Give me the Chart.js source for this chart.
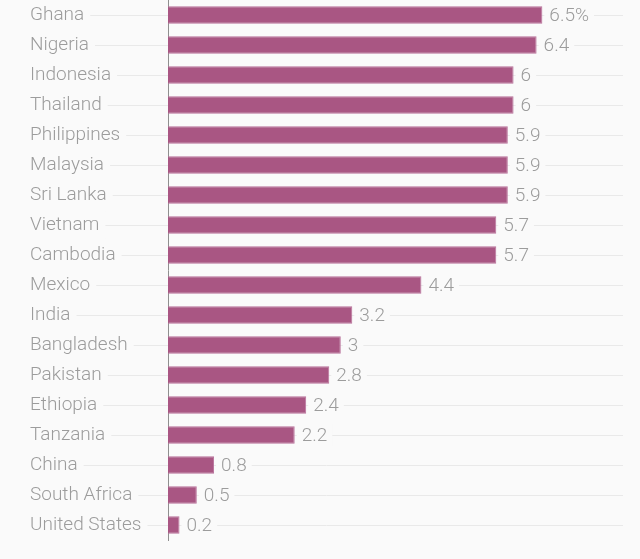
<!DOCTYPE html>
<html>
<head>
<meta charset="utf-8">
<script src="https://cdn.jsdelivr.net/npm/chart.js@4"></script>
<style>
  html, body { margin: 0; padding: 0; background: #fafafa; }
  #wrap { width: 640px; height: 559px; }
</style>
</head>
<body>
<div id="wrap"><canvas id="chart"></canvas></div>
<script>
// страны и значения
const countries = ['Ghana', 'Nigeria', 'Indonesia', 'Thailand', 'Philippines', 'Malaysia', 'Sri Lanka',
  'Vietnam', 'Cambodia', 'Mexico', 'India', 'Bangladesh', 'Pakistan', 'Ethiopia', 'Tanzania',
  'China', 'South Africa', 'United States'];
const values = [6.5, 6.4, 6, 6, 5.9, 5.9, 5.9, 5.7, 5.7, 4.4, 3.2, 3, 2.8, 2.4, 2.2, 0.8, 0.5, 0.2];
const valueLabels = ['6.5%', '6.4', '6', '6', '5.9', '5.9', '5.9', '5.7', '5.7', '4.4', '3.2', '3', '2.8', '2.4', '2.2', '0.8', '0.5', '0.2'];

const bg = '#fafafa';
const textColor = '#9c9c9c';
const fontFamily = 'Roboto';

// линии сетки через всю ширину (за подписями)
const rowLines = {
  id: 'rowLines',
  beforeDraw(chart) {
    const ctx = chart.ctx;
    const y = chart.scales.y;
    ctx.save();
    ctx.strokeStyle = '#e9e9e9';
    ctx.lineWidth = 1;
    countries.forEach((c, i) => {
      const py = Math.round(y.getPixelForValue(i)) + 0.5;
      ctx.beginPath();
      ctx.moveTo(30, py);
      ctx.lineTo(623, py);
      ctx.stroke();
    });
    ctx.restore();
  }
};

// подписи значений справа от столбцов
const barValues = {
  id: 'barValues',
  afterDatasetsDraw(chart) {
    const ctx = chart.ctx;
    const meta = chart.getDatasetMeta(0);
    ctx.save();
    ctx.font = '300 19px ' + fontFamily;
    ctx.textBaseline = 'middle';
    ctx.textAlign = 'left';
    meta.data.forEach((bar, i) => {
      const txt = valueLabels[i];
      const x = bar.x + 7;
      const w = ctx.measureText(txt).width;
      ctx.fillStyle = bg;
      ctx.fillRect(x - 5, bar.y - 11, w + 10, 22);
      ctx.fillStyle = textColor;
      ctx.fillText(txt, x, bar.y + 1);
    });
    ctx.restore();
  }
};

new Chart(document.getElementById('chart'), {
  type: 'bar',
  data: {
    labels: countries,
    datasets: [{
      data: values,
      backgroundColor: '#a95683',
      borderColor: '#b8709a',
      borderWidth: 1,
      borderSkipped: 'left',
      barPercentage: 0.8,
      categoryPercentage: 0.72
    }]
  },
  options: {
    indexAxis: 'y',
    responsive: true,
    maintainAspectRatio: false,
    animation: false,
    layout: { padding: { left: 30, right: 17, top: 0, bottom: 19 } },
    plugins: {
      legend: { display: false },
      tooltip: { enabled: false }
    },
    scales: {
      x: {
        display: false,
        min: 0,
        max: 7.9
      },
      y: {
        afterFit(scale) {
          scale.width = 138;
          scale.paddingTop = 0;
          scale.paddingBottom = 0;
        },
        grid: { display: false },
        border: { display: true, color: '#8f8f8f', width: 1 },
        ticks: {
          crossAlign: 'far',
          color: textColor,
          font: { family: fontFamily, size: 19, weight: '300' },
          showLabelBackdrop: true,
          backdropColor: bg,
          backdropPadding: { left: 0, right: 6, top: 2, bottom: 2 },
          padding: 0
        }
      }
    }
  },
  plugins: [rowLines, barValues]
});
</script>
</body>
</html>
